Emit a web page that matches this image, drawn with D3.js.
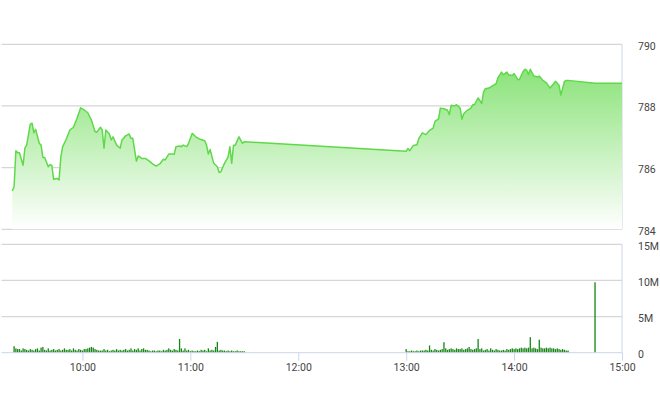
<!DOCTYPE html>
<html><head><meta charset="utf-8">
<script src="https://cdn.jsdelivr.net/npm/d3@7"></script>
<style>body{margin:0;background:#fff}svg{display:block}text{font-family:Roboto,"Liberation Sans",Arial,sans-serif}</style>
</head><body>
<svg id="c" width="660" height="412"></svg>
<script>
// ---- data ----
const priceTimes = ["9:21","9:22","9:23","9:24","9:25","9:27","9:28","9:29","9:31","9:32","9:33","9:34","9:36","9:37","9:38","9:39","9:41","9:42","9:43","9:44","9:46","9:47","9:48","9:49","9:51","9:53","9:55","9:57","9:59","10:01","10:03","10:05","10:07","10:08","10:10","10:11","10:12","10:13","10:15","10:16","10:17","10:19","10:21","10:22","10:24","10:26","10:27","10:28","10:30","10:31","10:33","10:35","10:37","10:39","10:41","10:43","10:45","10:46","10:48","10:50","10:51","10:52","10:54","10:55","10:56","10:58","10:59","11:01","11:03","11:05","11:08","11:09","11:10","11:11","11:13","11:15","11:16","11:17","11:19","11:21","11:22","11:23","11:24","11:25","11:27","11:29","11:30",
"13:00","13:01","13:02","13:04","13:06","13:07","13:09","13:11","13:13","13:15","13:16","13:18","13:19","13:21","13:23","13:24","13:25","13:27","13:28","13:30","13:31","13:32","13:34","13:36","13:37","13:38","13:40","13:42","13:43","13:44","13:46","13:48","13:50","13:51","13:53","13:54","13:56","13:57","13:59","14:00","14:02","14:03","14:05","14:06","14:07","14:08","14:09","14:11","14:13","14:14","14:16","14:18","14:20","14:22","14:23","14:25","14:26","14:28","14:29","14:30","14:45","15:00"];
const priceValues = [785.24,785.38,786.55,786.48,786.48,786.08,786.63,786.73,787.41,787.44,787.13,787.24,786.79,786.73,786.33,786.33,786.03,786.10,786.07,785.62,785.65,785.60,786.35,786.68,786.92,787.22,787.31,787.60,787.94,787.87,787.78,787.54,787.17,787.15,787.31,787.22,786.63,787.22,787.09,786.90,787.00,786.73,786.63,786.90,787.03,787.09,786.95,786.95,786.21,786.38,786.30,786.30,786.22,786.12,786.05,786.12,786.27,786.25,786.44,786.44,786.43,786.68,786.70,786.68,786.73,786.68,786.79,787.11,787.00,786.93,786.87,786.73,786.44,786.59,786.14,786.03,785.84,785.87,786.14,786.35,786.68,786.14,786.73,786.73,787.00,786.79,786.84,
786.53,786.62,786.55,786.72,786.74,786.94,787.13,787.07,787.21,787.28,787.50,787.58,787.93,787.91,787.86,787.72,788.02,788.00,788.04,787.93,787.57,787.75,787.86,787.93,788.04,788.04,788.26,788.08,788.45,788.56,788.58,788.65,788.72,788.91,789.10,789.01,789.10,789.01,788.99,789.05,788.86,788.86,789.12,789.19,789.16,789.02,789.19,788.97,788.94,788.97,788.83,788.75,788.58,788.72,788.80,788.67,788.35,788.80,788.83,788.83,788.74,788.74];

// volume, millions of shares, one bar per minute
const volMorningStart = "9:22";
const volMorning = [0.9,0.6,0.5,0.5,0.3,0.6,0.5,0.4,0.3,0.5,
 0.4,0.3,0.5,0.6,0.3,0.7,0.8,0.4,0.3,0.6,
 0.3,0.4,0.5,0.3,0.4,0.5,0.3,0.4,0.6,0.4,
 0.4,0.5,0.3,0.6,0.4,0.3,0.5,0.4,0.3,0.5,
 0.5,0.6,0.7,0.8,0.7,0.5,0.4,0.3,0.3,0.3,
 0.5,0.3,0.4,0.2,0.3,0.4,0.3,0.5,0.3,0.4,
 0.3,0.4,0.5,0.3,0.4,0.6,0.3,0.5,0.4,0.6,
 0.3,0.5,0.6,0.4,0.4,0.3,0.2,0.3,0.3,0.2,
 0.3,0.3,0.2,0.4,0.3,0.4,0.6,0.4,0.3,0.5,
 0.4,0.3,1.9,0.6,0.3,0.6,0.3,0.4,0.2,0.3,
 0.2,0.2,0.3,0.2,0.4,0.3,0.4,0.2,0.6,0.3,
 0.4,0.3,0.8,1.5,0.3,0.4,0.3,0.3,0.2,0.3,
 0.2,0.3,0.2,0.2,0.3,0.2,0.2,0.2,0.2];
const volAfternoonStart = "13:00";
const volAfternoon = [0.5,0.2,0.2,0.3,0.2,0.2,0.3,0.2,0.3,0.3,
 0.3,0.4,0.3,1.0,0.4,0.3,0.5,0.4,0.3,0.4,
 0.5,1.45,0.6,0.4,0.5,0.6,0.5,0.4,0.6,0.5,
 0.5,0.6,0.4,0.5,0.6,0.8,0.5,0.4,0.5,0.6,
 1.9,0.5,0.6,0.3,0.4,0.5,0.3,0.6,0.4,0.3,
 0.5,0.4,0.3,0.3,0.4,0.3,0.5,0.4,0.5,0.6,
 0.5,0.6,0.5,0.6,0.7,0.6,0.7,0.6,0.7,2.15,
 0.6,0.7,0.6,0.5,1.8,0.7,0.6,0.6,0.7,0.6,
 0.7,0.6,0.6,0.5,0.6,0.5,0.4,0.5,0.4,0.3,
 0.3];
const atcTime = "14:45";
const atcVolume = 9.75;

const priceTicks = [784,786,788,790];
const volTicks = [0,5,10,15];
const volTickLabels = ["0","5M","10M","15M"];
const timeTicks = ["10:00","11:00","12:00","13:00","14:00","15:00"];

// ---- helpers ----
const parse = s => { const [h,m] = s.split(":").map(Number); return new Date(2000,0,1,h,m); };
const addMin = (d,n) => new Date(d.getTime() + n*60000);

const price = priceTimes.map((t,i)=>({t:parse(t), v:priceValues[i]}));
const vols = [];
volMorning.forEach((v,i)=>vols.push({t:addMin(parse(volMorningStart),i), v}));
volAfternoon.forEach((v,i)=>vols.push({t:addMin(parse(volAfternoonStart),i), v}));
vols.push({t:parse(atcTime), v:atcVolume});

// ---- scales ----
const L = 1.5, R = 622;
const x = d3.scaleTime().domain([parse("9:15"), parse("15:00")]).range([L, R]);
const yP = d3.scaleLinear().domain([784,790]).range([229.3,44.3]);
const yV = d3.scaleLinear().domain([0,15]).range([352.7,244.3]);

const svg = d3.select("#c");
const defs = svg.append("defs");
const grad = defs.append("linearGradient").attr("id","g").attr("x1",0).attr("y1",0).attr("x2",0).attr("y2",1);
grad.append("stop").attr("offset",0).attr("stop-color","#8be37a");
grad.append("stop").attr("offset",1).attr("stop-color","#ffffff");

const gridC = "#d6d6d6", axisC = "#ccd6eb", txtC = "#444";

// price grid
svg.append("g").selectAll("line").data(priceTicks).join("line")
  .attr("x1",L).attr("x2",R).attr("y1",d=>yP(d)).attr("y2",d=>yP(d))
  .attr("stroke",gridC).attr("stroke-width",1.2);
// volume grid
svg.append("g").selectAll("line").data(volTicks.slice(1)).join("line")
  .attr("x1",L).attr("x2",R).attr("y1",d=>yV(d)).attr("y2",d=>yV(d))
  .attr("stroke",gridC).attr("stroke-width",1.2);

// right borders
svg.append("line").attr("x1",R).attr("x2",R).attr("y1",yP(790)).attr("y2",yP(784)).attr("stroke",axisC);
svg.append("line").attr("x1",R).attr("x2",R).attr("y1",yV(15)).attr("y2",yV(0)).attr("stroke",axisC);

// area + line
const area = d3.area().x(d=>x(d.t)).y0(yP(784)).y1(d=>yP(d.v));
const line = d3.line().x(d=>x(d.t)).y(d=>yP(d.v));
svg.append("path").datum(price).attr("d",area).attr("fill","url(#g)");
svg.append("path").datum(price).attr("d",line).attr("fill","none")
  .attr("stroke","#5fd94a").attr("stroke-width",1.5).attr("stroke-linejoin","round");

// volume bars
svg.append("g").selectAll("rect").data(vols).join("rect")
  .attr("x",d=>x(d.t)-0.65).attr("width",1.3)
  .attr("y",d=>yV(d.v)).attr("height",d=>yV(0)-yV(d.v))
  .attr("fill","#178517");

// x axis
const xa = svg.append("g").attr("transform",`translate(0,${yV(0)})`)
  .call(d3.axisBottom(x).tickValues(timeTicks.map(parse)).tickFormat(d3.timeFormat("%H:%M")).tickSize(8).tickSizeOuter(0).tickPadding(3));
xa.select(".domain").attr("stroke",axisC).attr("d",`M${L},0H${R}`);
xa.selectAll(".tick line").attr("stroke",axisC);
xa.selectAll("text").attr("fill",txtC).style("font-size","10.5px").style("font-family","Roboto");

// price axis labels
const pa = svg.append("g").attr("transform",`translate(${R},0)`)
  .call(d3.axisRight(yP).tickValues(priceTicks).tickSize(0).tickPadding(16).tickFormat(d3.format("d")));
pa.select(".domain").remove();
pa.selectAll("text").attr("fill",txtC).attr("dy","0.45em").style("font-size","10.5px").style("font-family","Roboto");

// volume axis labels
const va = svg.append("g").attr("transform",`translate(${R},0)`)
  .call(d3.axisRight(yV).tickValues(volTicks).tickSize(0).tickPadding(16).tickFormat((d,i)=>volTickLabels[i]));
va.select(".domain").remove();
va.selectAll("text").attr("fill",txtC).attr("dy","0.45em").style("font-size","10.5px").style("font-family","Roboto");
</script>
</body></html>
